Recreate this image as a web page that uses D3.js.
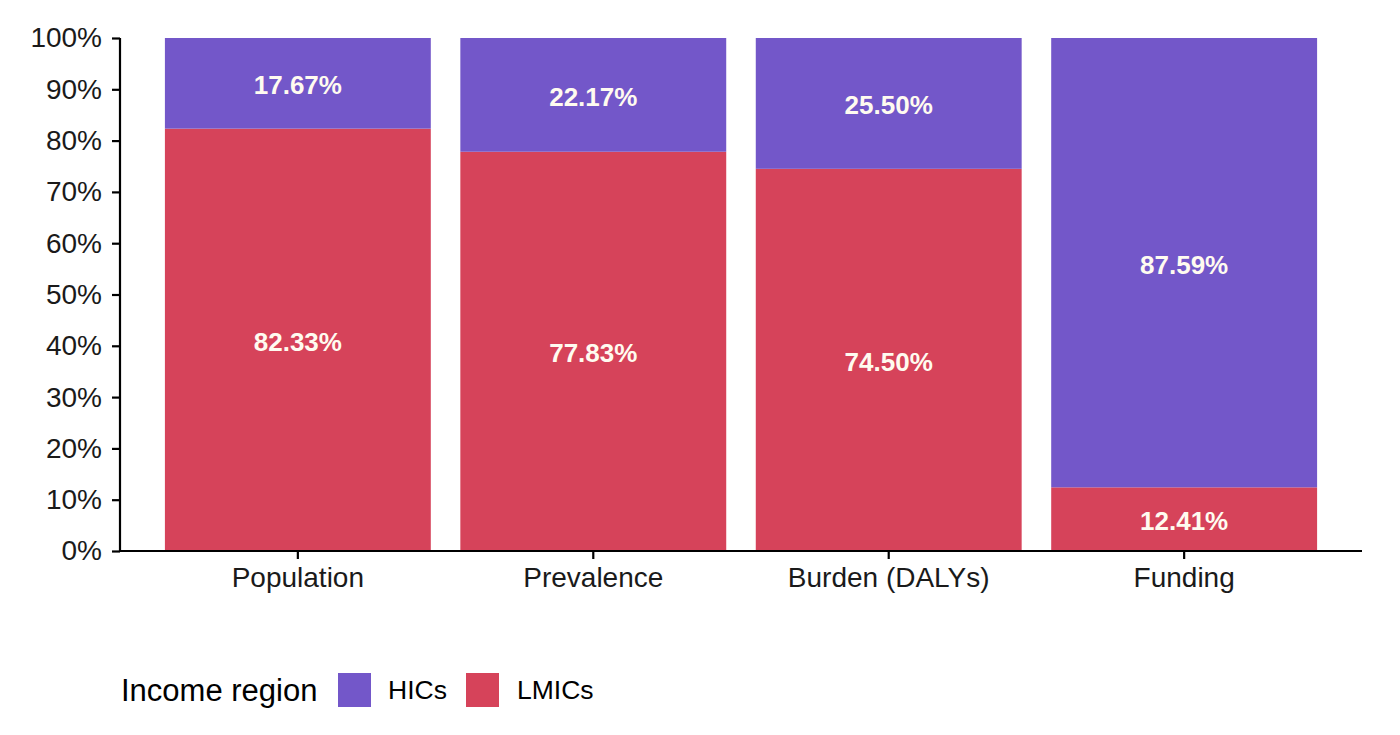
<!DOCTYPE html>
<html>
<head>
<meta charset="utf-8">
<script src="https://cdn.jsdelivr.net/npm/d3@7"></script>
<style>
  body { margin: 0; background: #fff; }
  text { font-family: "Liberation Sans", Arial, sans-serif; }
</style>
</head>
<body>
<svg id="chart" width="1400" height="735"></svg>
<script>
// data
const categories = ["Population", "Prevalence", "Burden (DALYs)", "Funding"];
const hics = [17.67, 22.17, 25.50, 87.59];
const lmics = [82.33, 77.83, 74.50, 12.41];
const yTicks = [0, 10, 20, 30, 40, 50, 60, 70, 80, 90, 100];

const colors = { HICs: "#7357c9", LMICs: "#d6435a" };

var svg = d3.select("#chart");
var margin = { left: 120, right: 38, top: 38, bottom: 184 };
var width = 1400 - margin.left - margin.right;
var height = 735 - margin.top - margin.bottom;

var g = svg.append("g")
    .attr("transform", "translate(" + margin.left + "," + margin.top + ")");

var x = d3.scaleBand()
    .domain(categories)
    .range([0, width])
    .paddingInner(0.1)
    .paddingOuter(0.152);

var y = d3.scaleLinear()
    .domain([0, 100])
    .range([height, 0]);

// stacked: LMICs at bottom, HICs on top
var rows = categories.map((c, i) => ({ cat: c, LMICs: lmics[i], HICs: hics[i] }));
var stack = d3.stack().keys(["LMICs", "HICs"]);
var series = stack(rows);

var layers = g.selectAll(".layer")
    .data(series)
    .enter().append("g")
    .attr("class", "layer")
    .attr("fill", d => colors[d.key]);

layers.selectAll("rect")
    .data(d => d)
    .enter().append("rect")
    .attr("x", d => x(d.data.cat))
    .attr("width", x.bandwidth())
    .attr("y", d => y(d[1]))
    .attr("height", d => y(d[0]) - y(d[1]));

layers.selectAll("text")
    .data(d => d)
    .enter().append("text")
    .attr("x", d => x(d.data.cat) + x.bandwidth() / 2)
    .attr("y", d => y((d[0] + d[1]) / 2))
    .attr("dy", "0.42em")
    .attr("text-anchor", "middle")
    .attr("fill", "#fffbf0")
    .attr("font-size", 26)
    .attr("font-weight", "bold")
    .text(d => (d[1] - d[0]).toFixed(2) + "%");

// axes
var yAxis = g.append("g")
    .call(d3.axisLeft(y).tickValues(yTicks).tickFormat(d => d + "%").tickSize(8).tickPadding(10));
var xAxis = g.append("g")
    .attr("transform", "translate(0," + height + ")")
    .call(d3.axisBottom(x).tickSize(8).tickPadding(8));

[yAxis, xAxis].forEach(a => {
    a.select(".domain").attr("stroke", "#000").attr("stroke-width", 2.2);
    a.selectAll(".tick line").attr("stroke", "#000").attr("stroke-width", 2.2);
    a.selectAll(".tick text").attr("fill", "#1a1a1a")
        .style("font-family", "'Liberation Sans', Arial, sans-serif");
});
yAxis.selectAll(".tick text").attr("font-size", 28);
xAxis.selectAll(".tick text").attr("font-size", 28);
yAxis.select(".domain").attr("d", "M0," + height + "V0");
xAxis.select(".domain").attr("d", "M0,0H" + width);

// legend
var legend = svg.append("g").attr("transform", "translate(121,690)");
legend.append("text")
    .attr("x", 0).attr("y", 0).attr("dy", "0.35em")
    .attr("font-size", 31).attr("fill", "#000")
    .text("Income region");

var keys = [
    { key: "HICs", bx: 217, tx: 267 },
    { key: "LMICs", bx: 345, tx: 396 }
];
keys.forEach(k => {
    legend.append("rect")
        .attr("x", k.bx).attr("y", -17)
        .attr("width", 33).attr("height", 34)
        .attr("fill", colors[k.key]);
    legend.append("text")
        .attr("x", k.tx).attr("y", 0).attr("dy", "0.35em")
        .attr("font-size", 26.5).attr("fill", "#000")
        .text(k.key);
});
</script>
</body>
</html>
